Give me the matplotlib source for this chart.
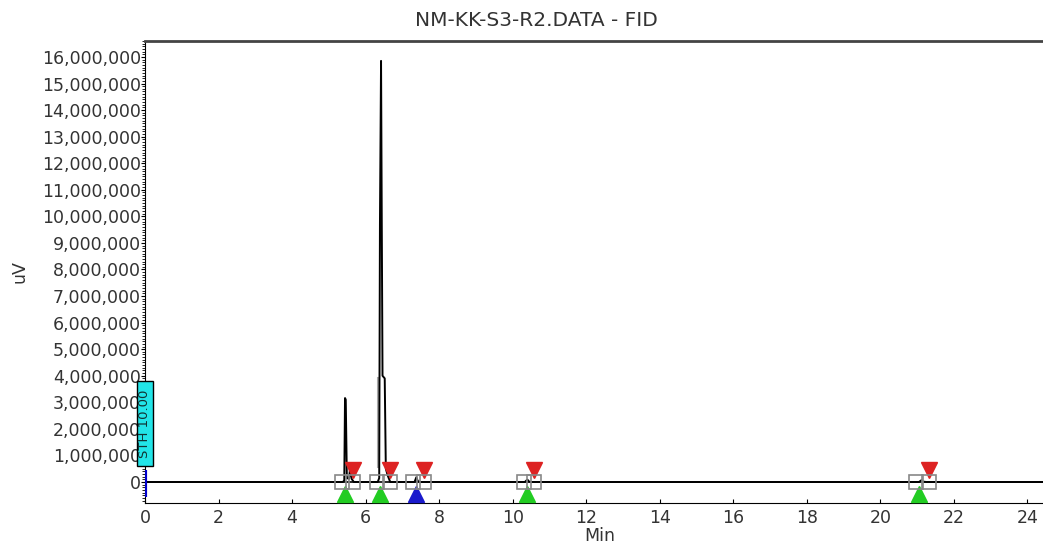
import matplotlib.pyplot as plt
from matplotlib.ticker import FuncFormatter, MultipleLocator
from matplotlib.patches import Rectangle

# chromatogram trace (min, uV)
rt = [0.0, 0.06, 5.38, 5.42, 5.44, 5.46, 5.49, 5.55, 5.58, 5.62, 5.68, 6.33, 6.37,
      6.39, 6.42, 6.44, 6.46, 6.49, 6.52, 6.55, 6.60, 6.67, 7.33, 7.38, 7.42, 7.50,
      10.33, 10.40, 10.44, 10.52, 21.05, 21.12, 21.16, 21.25, 24.8]
signal = [0, 0, 0, 60000, 3160000, 3100000, 150000, 120000, 560000, 120000, 0, 0, 150000,
          9700000, 15850000, 9600000, 4000000, 3950000, 3900000, 500000, 250000, 0, 0, 180000, 30000, 0,
          0, 90000, 20000, 0, 0, 70000, 15000, 0, 0]

# grey integration drop at the big peak
drop_t = [6.35, 6.35]
drop_v = [550000, 3900000]

# peak start / end marks
peak_start = [5.45, 6.39, 7.38, 10.39, 21.05]
start_color = ['#22cc22', '#22cc22', '#1a1acc', '#22cc22', '#22cc22']
peak_end = [5.67, 6.67, 7.58, 10.58, 21.32]

fig = plt.figure(figsize=(10.43, 5.48), dpi=100)
ax = fig.add_axes([145 / 1043, 45 / 548, 910 / 1043, 462 / 548])

ax.axhline(0, color='black', lw=1.2, zorder=1)
ax.plot(rt, signal, color='black', lw=1.4, zorder=3)
ax.plot(drop_t, drop_v, color='#aaaaaa', lw=1.5, zorder=2)

# timed event at t=0
ax.plot([0, 0], [-560000, 450000], color='#0000cc', lw=3, zorder=4, solid_capstyle='butt')
ax.add_patch(Rectangle((-0.22, 600000), 0.44, 3200000, facecolor='#22e5e8',
                       edgecolor='black', lw=1.0, zorder=5, clip_on=False))
ax.text(0, 2200000, 'STH 10.00', rotation=90, ha='center', va='center',
        fontsize=9.5, color='#113333', zorder=6, clip_on=False)

for t, c in zip(peak_start, start_color):
    ax.plot(t, -470000, marker='^', ms=11, color=c, mec=c, zorder=4)
    ax.plot(t - 0.08, 0, marker='s', ms=9.5, mfc='none', mec='#888888', mew=1.2, zorder=5)
for t in peak_end:
    ax.plot(t, 450000, marker='v', ms=11, color='#dd2222', zorder=4)
    ax.plot(t, 0, marker='s', ms=9.5, mfc='none', mec='#888888', mew=1.2, zorder=5)

ax.set_xlim(0, 24.75)
ax.set_ylim(-790000, 16600000)
ax.set_xticks(range(0, 25, 2))
ax.yaxis.set_major_locator(MultipleLocator(1000000))
ax.yaxis.set_minor_locator(MultipleLocator(100000))
ax.yaxis.set_major_formatter(FuncFormatter(lambda v, p: f'{int(v):,}'))

ax.tick_params(axis='x', direction='in', length=3, labelsize=12.5, labelcolor='#333333', pad=4)
ax.tick_params(axis='y', which='major', direction='out', length=3, labelsize=12.5,
               labelcolor='#333333', pad=0)
ax.tick_params(axis='y', which='minor', direction='out', length=2)

ax.spines['right'].set_visible(False)
ax.spines['top'].set_color('#444444')
ax.spines['top'].set_linewidth(2)

ax.set_xlabel('Min', fontsize=12.5, color='#333333', labelpad=0)
ax.set_ylabel('uV', fontsize=12.5, color='#333333')
ax.yaxis.set_label_coords(-0.128, 0.5)
fig.text(536 / 1043, 1 - 21 / 548, 'NM-KK-S3-R2.DATA - FID', ha='center', va='center',
         fontsize=14.5, color='#333333')

fig.savefig('out.png', dpi=100)
